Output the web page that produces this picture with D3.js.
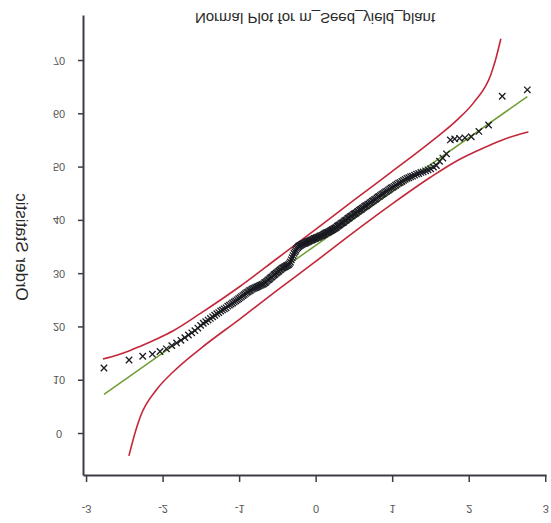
<!DOCTYPE html>
<html>
<head>
<meta charset="utf-8">
<script src="https://cdn.jsdelivr.net/npm/d3@7"></script>
<style>
  html, body { margin: 0; padding: 0; background: #fff; }
  svg { display: block; }
  text { font-family: "Liberation Sans", Arial, sans-serif; }
</style>
</head>
<body>
<svg id="chart" width="551" height="523"></svg>
<script>
// Sorted sample (order statistics) of m_Seed_yield_plant
const orderStats = [
  12.2, 13.7, 14.4, 14.8, 15.3, 15.8, 16.4, 16.9, 17.4, 17.9,
  18.4, 18.8, 19.2, 19.7, 20.2, 20.6, 20.9, 21.2, 21.5, 21.8,
  22.1, 22.4, 22.6, 22.9, 23.1, 23.3, 23.5, 23.8, 24.0, 24.2,
  24.4, 24.6, 24.8, 25.0, 25.2, 25.4, 25.6, 25.8, 26.0, 26.2,
  26.4, 26.5, 26.7, 26.8, 27.0, 27.1, 27.2, 27.3, 27.4, 27.5,
  27.6, 27.7, 27.8, 27.9, 28.0, 28.2, 28.3, 28.5, 28.7, 28.8,
  29.0, 29.2, 29.3, 29.5, 29.7, 29.8, 30.0, 30.1, 30.3, 30.4,
  30.6, 30.7, 30.9, 31.0, 31.1, 31.2, 31.3, 31.4, 31.5, 31.6,
  31.8, 32.1, 32.5, 32.9, 33.3, 33.7, 34.0, 34.3, 34.6, 34.8,
  35.0, 35.1, 35.2, 35.3, 35.4, 35.5, 35.6, 35.6, 35.7, 35.8,
  35.9, 35.9, 36.0, 36.1, 36.2, 36.2, 36.3, 36.4, 36.5, 36.5,
  36.6, 36.7, 36.7, 36.8, 36.9, 37.0, 37.0, 37.1, 37.2, 37.3,
  37.4, 37.5, 37.6, 37.6, 37.7, 37.8, 37.9, 38.0, 38.1, 38.2,
  38.3, 38.4, 38.5, 38.6, 38.8, 38.9, 39.0, 39.1, 39.3, 39.4,
  39.5, 39.6, 39.8, 39.9, 40.0, 40.2, 40.3, 40.4, 40.6, 40.7,
  40.8, 41.0, 41.1, 41.2, 41.3, 41.5, 41.6, 41.8, 41.9, 42.0,
  42.2, 42.3, 42.5, 42.6, 42.7, 42.9, 43.0, 43.2, 43.3, 43.5,
  43.6, 43.8, 43.9, 44.1, 44.3, 44.4, 44.6, 44.8, 44.9, 45.1,
  45.3, 45.4, 45.6, 45.8, 46.0, 46.1, 46.3, 46.5, 46.7, 46.9,
  47.0, 47.2, 47.4, 47.6, 47.8, 47.9, 48.1, 48.2, 48.4, 48.6,
  48.7, 48.9, 49.0, 49.2, 49.4, 49.6, 49.9, 50.2, 51.0, 51.6,
  52.4, 55.0, 55.2, 55.3, 55.4, 55.6, 56.6, 57.8, 63.2, 64.4
];

// Reference line: intercept (location) and slope (scale)
const lineIntercept = 35.2;
const lineSlope = 10.1;

// Confidence band curves (normal quantile, order statistic)
const upperBandQ = [-2.78, -2.6, -2.44, -2.29, -2.07, -1.86, -1.5, -1.0, -0.5, 0, 0.5, 1.0, 1.5, 1.86, 2.07, 2.29, 2.35, 2.42];
const upperBandV = [13.9, 14.6, 15.4, 16.3, 17.7, 19.2, 22.5, 27.4, 32.8, 38.2, 43.7, 49.1, 54.6, 58.9, 62.1, 67.3, 70.0, 74.0];
const lowerBandQ = [-2.44, -2.35, -2.29, -2.07, -1.86, -1.5, -1.0, -0.5, 0, 0.5, 1.0, 1.5, 1.86, 2.07, 2.29, 2.44, 2.6, 2.78];
const lowerBandV = [-4.3, 0.5, 3.1, 8.3, 11.5, 15.9, 21.3, 26.8, 32.2, 37.7, 43.0, 48.0, 51.2, 52.7, 54.1, 55.0, 55.8, 56.5];

// Axis ticks
const xTicks = [-3, -2, -1, 0, 1, 2, 3];
const xTickLabels = ["-3", "-2", "-1", "0", "1", "2", "3"];
const yTicks = [0, 10, 20, 30, 40, 50, 60, 70];
const yTickLabels = ["0", "10", "20", "30", "40", "50", "60", "70"];

const titleText = "Normal Plot for m_Seed_yield_plant";
const yAxisTitle = "Order Statistic";

// Inverse standard normal CDF (Acklam's rational approximation)
function normInv(p) {
  const a = [-3.969683028665376e+01, 2.209460984245205e+02, -2.759285104469687e+02,
             1.383577518672690e+02, -3.066479806614716e+01, 2.506628277459239e+00];
  const b = [-5.447609879822406e+01, 1.615858368580409e+02, -1.556989798598866e+02,
             6.680131188771972e+01, -1.328068155288572e+01];
  const c = [-7.784894002430293e-03, -3.223964580411365e-01, -2.400758277161838e+00,
             -2.549732539343734e+00, 4.374664141464968e+00, 2.938163982698783e+00];
  const d = [7.784695709041462e-03, 3.224671290700398e-01, 2.445134137142996e+00,
             3.754408661907416e+00];
  const pl = 0.02425;
  let q, r;
  if (p < pl) {
    q = Math.sqrt(-2 * Math.log(p));
    return (((((c[0]*q+c[1])*q+c[2])*q+c[3])*q+c[4])*q+c[5]) / ((((d[0]*q+d[1])*q+d[2])*q+d[3])*q+1);
  }
  if (p <= 1 - pl) {
    q = p - 0.5; r = q * q;
    return (((((a[0]*r+a[1])*r+a[2])*r+a[3])*r+a[4])*r+a[5])*q / (((((b[0]*r+b[1])*r+b[2])*r+b[3])*r+b[4])*r+1);
  }
  q = Math.sqrt(-2 * Math.log(1 - p));
  return -(((((c[0]*q+c[1])*q+c[2])*q+c[3])*q+c[4])*q+c[5]) / ((((d[0]*q+d[1])*q+d[2])*q+d[3])*q+1);
}

// Blom plotting positions
const n = orderStats.length;
const points = orderStats.map((v, i) => ({ q: normInv((i + 1 - 0.375) / (n + 0.25)), v }));

const svg = d3.select("#chart");

const x = d3.scaleLinear().domain([-3.04, 3.01]).range([83, 546]);
const y = d3.scaleLinear().domain([-7.88, 78.45]).range([475, 15]);

const axisColor = "#3c3c46";
const labelColor = "#555";

// Text is drawn mirrored top-to-bottom about its own centre
function flipText(sel, tx, ty) {
  sel.attr("x", 0).attr("y", 0).attr("dy", null)
     .attr("dominant-baseline", "central")
     .attr("transform", `translate(${tx},${ty}) scale(1,-1)`);
}

// X axis
const gx = svg.append("g").attr("transform", `translate(0,${y.range()[0]})`)
  .call(d3.axisBottom(x).tickValues(xTicks).tickSize(7).tickSizeOuter(0)
        .tickFormat((d, i) => xTickLabels[i]));
gx.select(".domain").attr("stroke", axisColor).attr("stroke-width", 2);
gx.selectAll(".tick line").attr("stroke", axisColor).attr("stroke-width", 1.5);
gx.selectAll(".tick text").attr("fill", labelColor).attr("font-size", 11)
  .attr("font-family", "Liberation Sans, Arial, sans-serif")
  .each(function () { flipText(d3.select(this), 0, 34); });

// Y axis
const gy = svg.append("g").attr("transform", `translate(${x.range()[0]},0)`)
  .call(d3.axisLeft(y).tickValues(yTicks).tickSize(5).tickSizeOuter(0)
        .tickFormat((d, i) => yTickLabels[i]));
gy.select(".domain").attr("stroke", axisColor).attr("stroke-width", 2);
gy.selectAll(".tick line").attr("stroke", axisColor).attr("stroke-width", 1.5);
gy.selectAll(".tick text").attr("fill", labelColor).attr("font-size", 11)
  .attr("font-family", "Liberation Sans, Arial, sans-serif")
  .attr("text-anchor", "middle")
  .each(function () { flipText(d3.select(this), -24, 0); });

// Confidence bands
const bandLine = d3.line().x(d => x(d[0])).y(d => y(d[1])).curve(d3.curveMonotoneX);
svg.append("path").datum(d3.zip(upperBandQ, upperBandV))
  .attr("d", bandLine).attr("fill", "none").attr("stroke", "#c3283a").attr("stroke-width", 1.6);
svg.append("path").datum(d3.zip(lowerBandQ, lowerBandV))
  .attr("d", bandLine).attr("fill", "none").attr("stroke", "#c3283a").attr("stroke-width", 1.6);

// Fitted reference line over the range of plotted quantiles
const qExtent = d3.extent(points, d => d.q);
svg.append("line")
  .attr("x1", x(qExtent[0])).attr("y1", y(lineIntercept + lineSlope * qExtent[0]))
  .attr("x2", x(qExtent[1])).attr("y2", y(lineIntercept + lineSlope * qExtent[1]))
  .attr("stroke", "#6e9c34").attr("stroke-width", 1.5);

// Order statistics as crosses
const s = 3.2;
svg.append("g").selectAll("path").data(points).join("path")
  .attr("transform", d => `translate(${x(d.q)},${y(d.v)})`)
  .attr("d", `M${-s},${-s}L${s},${s}M${-s},${s}L${s},${-s}`)
  .attr("stroke", "#1a1a22").attr("stroke-width", 1.3).attr("fill", "none");

// Title
svg.append("text").text(titleText)
  .attr("font-size", 15).attr("fill", "#2a2a2a").attr("text-anchor", "middle")
  .call(flipText, 315, 18);

// Y axis title
svg.append("text").text(yAxisTitle)
  .attr("font-size", 17).attr("fill", "#2a2a2a").attr("text-anchor", "middle")
  .attr("x", 0).attr("y", 0)
  .attr("dominant-baseline", "central")
  .attr("transform", "translate(21,247) rotate(-90) scale(1,-1)");
</script>
</body>
</html>
